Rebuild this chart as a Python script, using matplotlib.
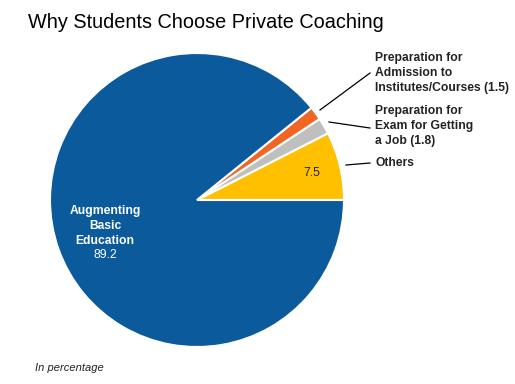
import matplotlib
matplotlib.use("Agg")
import matplotlib.pyplot as plt

plt.rcParams['font.family'] = ['Liberation Sans', 'DejaVu Sans']

categories = ["Others", "Preparation for\nExam for Getting\na Job (1.8)",
              "Preparation for\nAdmission to\nInstitutes/Courses (1.5)",
              "Augmenting\nBasic\nEducation"]
values = [7.5, 1.8, 1.5, 89.2]
colors = ["#FFC000", "#BFBFBF", "#F26522", "#0B5A9B"]

W, H = 515, 384
fig = plt.figure(figsize=(W / 100, H / 100), dpi=100)
cx, cy, r = 197, 200, 147
ax = fig.add_axes([(cx - r) / W, (H - cy - r) / H, 2 * r / W, 2 * r / H])
wedges, _ = ax.pie(values, colors=colors, startangle=0, counterclock=True,
                   radius=1.0, wedgeprops=dict(edgecolor="white", linewidth=1.5))
ax.set_xlim(-1, 1)
ax.set_ylim(-1, 1)
ax.set_aspect("auto")
ax.axis("off")

def px(x, y):
    # pixel coords -> data coords of ax
    return ((x - cx) / r, (cy - y) / r)

# inside labels
ax.text(*px(312, 173), f"{values[0]}", ha="center", va="center", fontsize=8.7, color="#222222")
ax.text(*px(105, 226), categories[3], ha="center", va="center", fontsize=8.7,
        color="white", fontweight="bold", linespacing=1.3)
ax.text(*px(105, 255), f"{values[3]}", ha="center", va="center", fontsize=8.7, color="white")

# outside labels with leader lines
lines = [((346, 165), (370, 163), (375, 163), "Others"),
         ((329, 122), (370, 128), (375, 126), categories[1]),
         ((320, 110), (370, 73), (375, 73), categories[2])]
for (x0, y0), (x1, y1), (tx, ty), lab in lines:
    ax.plot([px(x0, y0)[0], px(x1, y1)[0]], [px(x0, y0)[1], px(x1, y1)[1]],
            color="black", lw=0.9, clip_on=False)
    ax.text(*px(tx, ty), lab, ha="left", va="center", fontsize=8.7,
            fontweight="bold", color="#222222", linespacing=1.3)

fig.text(28 / W, 1 - 23 / H, "Why Students Choose Private Coaching", ha="left", va="center",
         fontsize=14.3, color="black")
fig.text(35 / W, 1 - 368 / H, "In percentage", ha="left", va="center", fontsize=8,
         style="italic", color="#222222")

fig.savefig("out.png", dpi=100)
